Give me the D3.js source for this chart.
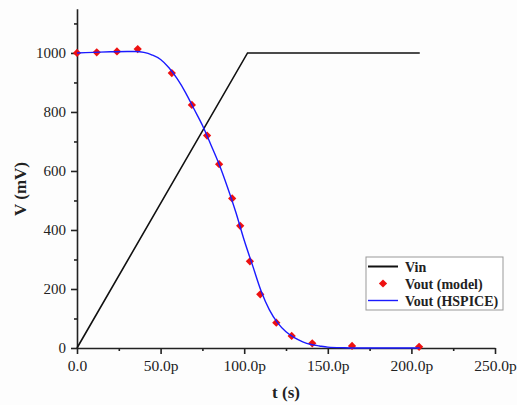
<!DOCTYPE html>
<html lang="en">
  <head>
    <meta charset="UTF-8" />
    <title>Vin / Vout</title>
    <script src="https://d3js.org/d3.v7.min.js"></script>
    <style>
      body {
        margin: 0;
        background: #fdfdfd;
      }
      svg text {
        font-family: "Liberation Serif", "Times New Roman", serif;
        fill: #222;
      }
      .axis path,
      .axis line {
        stroke: #222;
        stroke-width: 1.6px;
      }
    </style>
  </head>
  <body>
    <svg id="chart" width="517" height="405"></svg>

    <script>
      // time in ps, voltage in mV
      const vinT = [0, 102, 205];
      const vinV = [0, 1000, 1000];

      const modelT = [0, 11.8, 23.9, 36.3, 56.7, 68.7, 77.8, 85, 92.8, 97.6, 103.4, 109.6, 119.2, 128.4, 140.7, 164.5, 204.6];
      const modelV = [1000, 1002, 1005, 1013, 932, 824, 720, 623, 507, 414, 294, 182, 86, 41, 16, 7, 4];

      const hspiceT = [0, 10, 20, 30, 35, 40, 45, 50, 55, 60, 65, 70, 75, 80, 85, 90, 95, 100, 105, 110, 115, 120, 125, 130, 135, 140, 145, 150, 160, 170, 205];
      const hspiceV = [1000, 1002, 1004, 1005, 1005, 1002, 993, 978, 950, 912, 865, 810, 755, 690, 623, 545, 460, 365, 280, 195, 130, 85, 55, 35, 21, 12, 7, 3, 1, 0, 0];

      const xTicks = [0, 50, 100, 150, 200, 250];
      const xTickLabels = ["0.0", "50.0p", "100.0p", "150.0p", "200.0p", "250.0p"];
      const yTicks = [0, 200, 400, 600, 800, 1000];

      const svg = d3.select("#chart");
      const x = d3.scaleLinear().domain([0, 250]).range([77, 495]);
      const y = d3.scaleLinear().domain([0, 1150]).range([348, 8.7]);

      // minor ticks
      svg
        .append("g")
        .attr("class", "axis")
        .attr("transform", "translate(0,348)")
        .call(d3.axisBottom(x).tickValues([25, 75, 125, 175, 225]).tickSize(3).tickFormat(""))
        .call((g) => g.select(".domain").remove());
      svg
        .append("g")
        .attr("class", "axis")
        .attr("transform", "translate(77,0)")
        .call(d3.axisLeft(y).tickValues([100, 300, 500, 700, 900, 1100]).tickSize(3).tickFormat(""))
        .call((g) => g.select(".domain").remove());

      svg
        .append("g")
        .attr("class", "axis")
        .attr("transform", "translate(0,348)")
        .call(
          d3
            .axisBottom(x)
            .tickValues(xTicks)
            .tickSize(6)
            .tickSizeOuter(0)
            .tickPadding(6)
            .tickFormat((d, i) => xTickLabels[i])
        )
        .attr("font-family", null)
        .attr("font-size", 15.5);

      svg
        .append("g")
        .attr("class", "axis")
        .attr("transform", "translate(77,0)")
        .call(
          d3
            .axisLeft(y)
            .tickValues(yTicks)
            .tickSize(6)
            .tickSizeOuter(0)
            .tickPadding(5)
            .tickFormat(d3.format("d"))
        )
        .attr("font-family", null)
        .attr("font-size", 15);

      svg
        .append("text")
        .attr("x", 286)
        .attr("y", 398)
        .attr("text-anchor", "middle")
        .style("font-size", "17px")
        .style("font-weight", "bold")
        .text("t (s)");

      svg
        .append("text")
        .attr("transform", "translate(26,189) rotate(-90)")
        .attr("text-anchor", "middle")
        .style("font-size", "17px")
        .style("font-weight", "bold")
        .text("V (mV)");

      const line = d3
        .line()
        .x((d) => x(d[0]))
        .y((d) => y(d[1]));

      svg
        .append("path")
        .datum(vinT.map((t, i) => [t, vinV[i]]))
        .attr("fill", "none")
        .attr("stroke", "#111")
        .attr("stroke-width", 1.6)
        .attr("d", line);

      const smooth = d3
        .line()
        .curve(d3.curveMonotoneX)
        .x((d) => x(d[0]))
        .y((d) => y(d[1]));

      const diamond = d3.symbol(d3.symbolSquare, 34);

      svg
        .selectAll(".pt")
        .data(modelT.map((t, i) => [t, modelV[i]]))
        .enter()
        .append("path")
        .attr("class", "pt")
        .attr("fill", "#ee1111")
        .attr("transform", (d) => `translate(${x(d[0])},${y(d[1])}) rotate(45)`)
        .attr("d", diamond);

      svg
        .append("path")
        .datum(hspiceT.map((t, i) => [t, hspiceV[i]]))
        .attr("fill", "none")
        .attr("stroke", "#1a1aff")
        .attr("stroke-width", 1.4)
        .attr("d", smooth);

      // legend
      const lg = svg.append("g").attr("transform", "translate(366,257)");
      lg.append("rect")
        .attr("width", 137)
        .attr("height", 53)
        .attr("fill", "#fff")
        .attr("stroke", "#999")
        .attr("stroke-width", 1);
      const items = [
        { name: "Vin", kind: "line", color: "#111" },
        { name: "Vout (model)", kind: "pt", color: "#ee1111" },
        { name: "Vout (HSPICE)", kind: "line", color: "#1a1aff" },
      ];
      items.forEach((it, i) => {
        const cy = 9.5 + i * 17;
        if (it.kind === "line") {
          lg.append("line")
            .attr("x1", 2)
            .attr("x2", 32)
            .attr("y1", cy)
            .attr("y2", cy)
            .attr("stroke", it.color)
            .attr("stroke-width", i === 0 ? 2 : 1.4);
        } else {
          lg.append("path")
            .attr("transform", `translate(17,${cy}) rotate(45)`)
            .attr("fill", it.color)
            .attr("d", diamond);
        }
        lg.append("text")
          .attr("x", 39)
          .attr("y", cy + 5)
          .style("font-size", "14px")
          .style("font-weight", "bold")
          .text(it.name);
      });
    </script>
  </body>
</html>
